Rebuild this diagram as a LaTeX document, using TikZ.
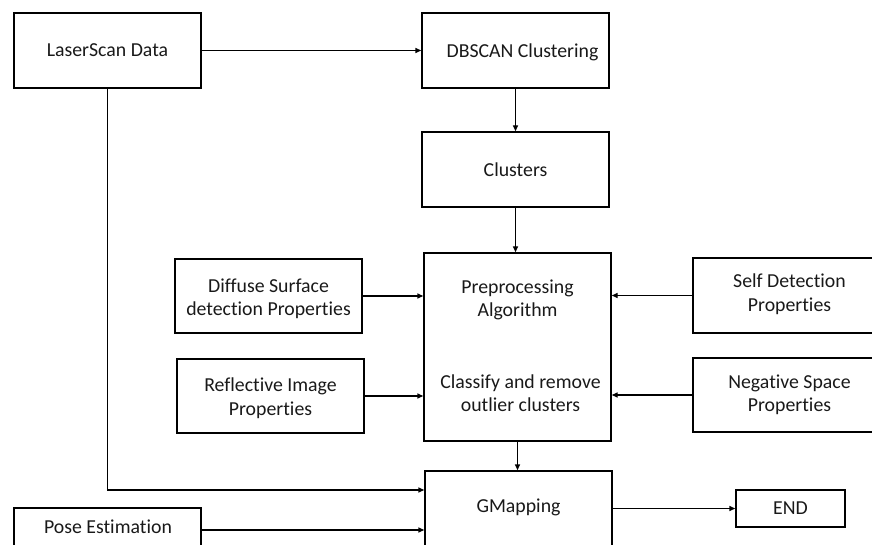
\documentclass[tikz,border=0pt]{standalone}
\usepackage{fontspec}
\setmainfont{Carlito}[Ligatures=NoCommon]
\usetikzlibrary{arrows.meta}
\tikzset{
  box/.style={draw, line width=1.4pt, rectangle, inner sep=0pt,
    minimum width=187pt, minimum height=75pt},
  txt/.style={align=center, inner sep=0pt, text=black!90,
    font=\fontsize{19.8}{23.5}\selectfont},
  arr/.style={line width=1.4pt, -{Triangle[length=6pt,width=5pt]}}
}
\begin{document}
\begin{tikzpicture}[x=1pt,y=-1pt]
\useasboundingbox (0,0) rectangle (872,545);
\clip (0,0) rectangle (872,545);

% boxes
\node[box] (laser) at (107.5,50.5) {};
\node[box] (db) at (515.5,50.5) {};
\node[box] (cl) at (515.5,169.5) {};
\node[box, minimum height=188pt] (pre) at (517.5,347) {};
\node[box, minimum height=74pt] (diff) at (268.5,296) {};
\node[box, minimum height=74pt] (refl) at (270.5,396) {};
\node[box] (self) at (786.5,295.5) {};
\node[box, minimum height=74pt] (neg) at (786.5,395) {};
\node[box] (gm) at (518.5,508.5) {};
\node[box, minimum width=109pt, minimum height=37pt] (end) at (790.5,508.5) {};
\node[box] (pose) at (107.5,545.5) {};

% labels
\node[txt] at (laser.center) {LaserScan Data};
\node[txt] at ([xshift=7pt,yshift=-2pt]db.center) {DBSCAN Clustering};
\node[txt] at (cl.center) {Clusters};
\node[txt] at (517.5,300) {Preprocessing\\Algorithm};
\node[txt] at (520.5,393) {Classify and remove\\outlier clusters};
\node[txt] at ([yshift=-3pt]diff.center) {Diffuse Surface\\detection Properties};
\node[txt] at ([yshift=-2pt]refl.center) {Reflective Image\\Properties};
\node[txt] at ([xshift=3pt,yshift=1.5pt]self.center) {Self Detection\\Properties};
\node[txt] at ([xshift=3pt]neg.center) {Negative Space\\Properties};
\node[txt] at ([yshift=1.5pt]gm.center) {GMapping};
\node[txt] at (end.center) {END};
\node[txt] at (108,527) {Pose Estimation};

% connectors
\draw[arr] (laser.east) -- (db.west);
\draw[arr] (db.south) -- (cl.north);
\draw[arr] (cl.south) -- (cl.south |- pre.north);
\draw[arr] (diff.east) -- (diff.east -| pre.west);
\draw[arr] (refl.east) -- (refl.east -| pre.west);
\draw[arr] (self.west) -- (self.west -| pre.east);
\draw[arr] (neg.west) -- (neg.west -| pre.east);
\draw[arr] (pre.south) -- (pre.south |- gm.north);
\coordinate (scanin) at ([yshift=18.5pt]gm.west);
\draw[arr] (laser.south) |- (scanin);
\coordinate (poseout) at ([yshift=15.5pt]pose.east);
\draw[arr] (poseout) -- (poseout -| gm.west);
\draw[arr] (gm.east) -- (end.west);
\end{tikzpicture}
\end{document}
